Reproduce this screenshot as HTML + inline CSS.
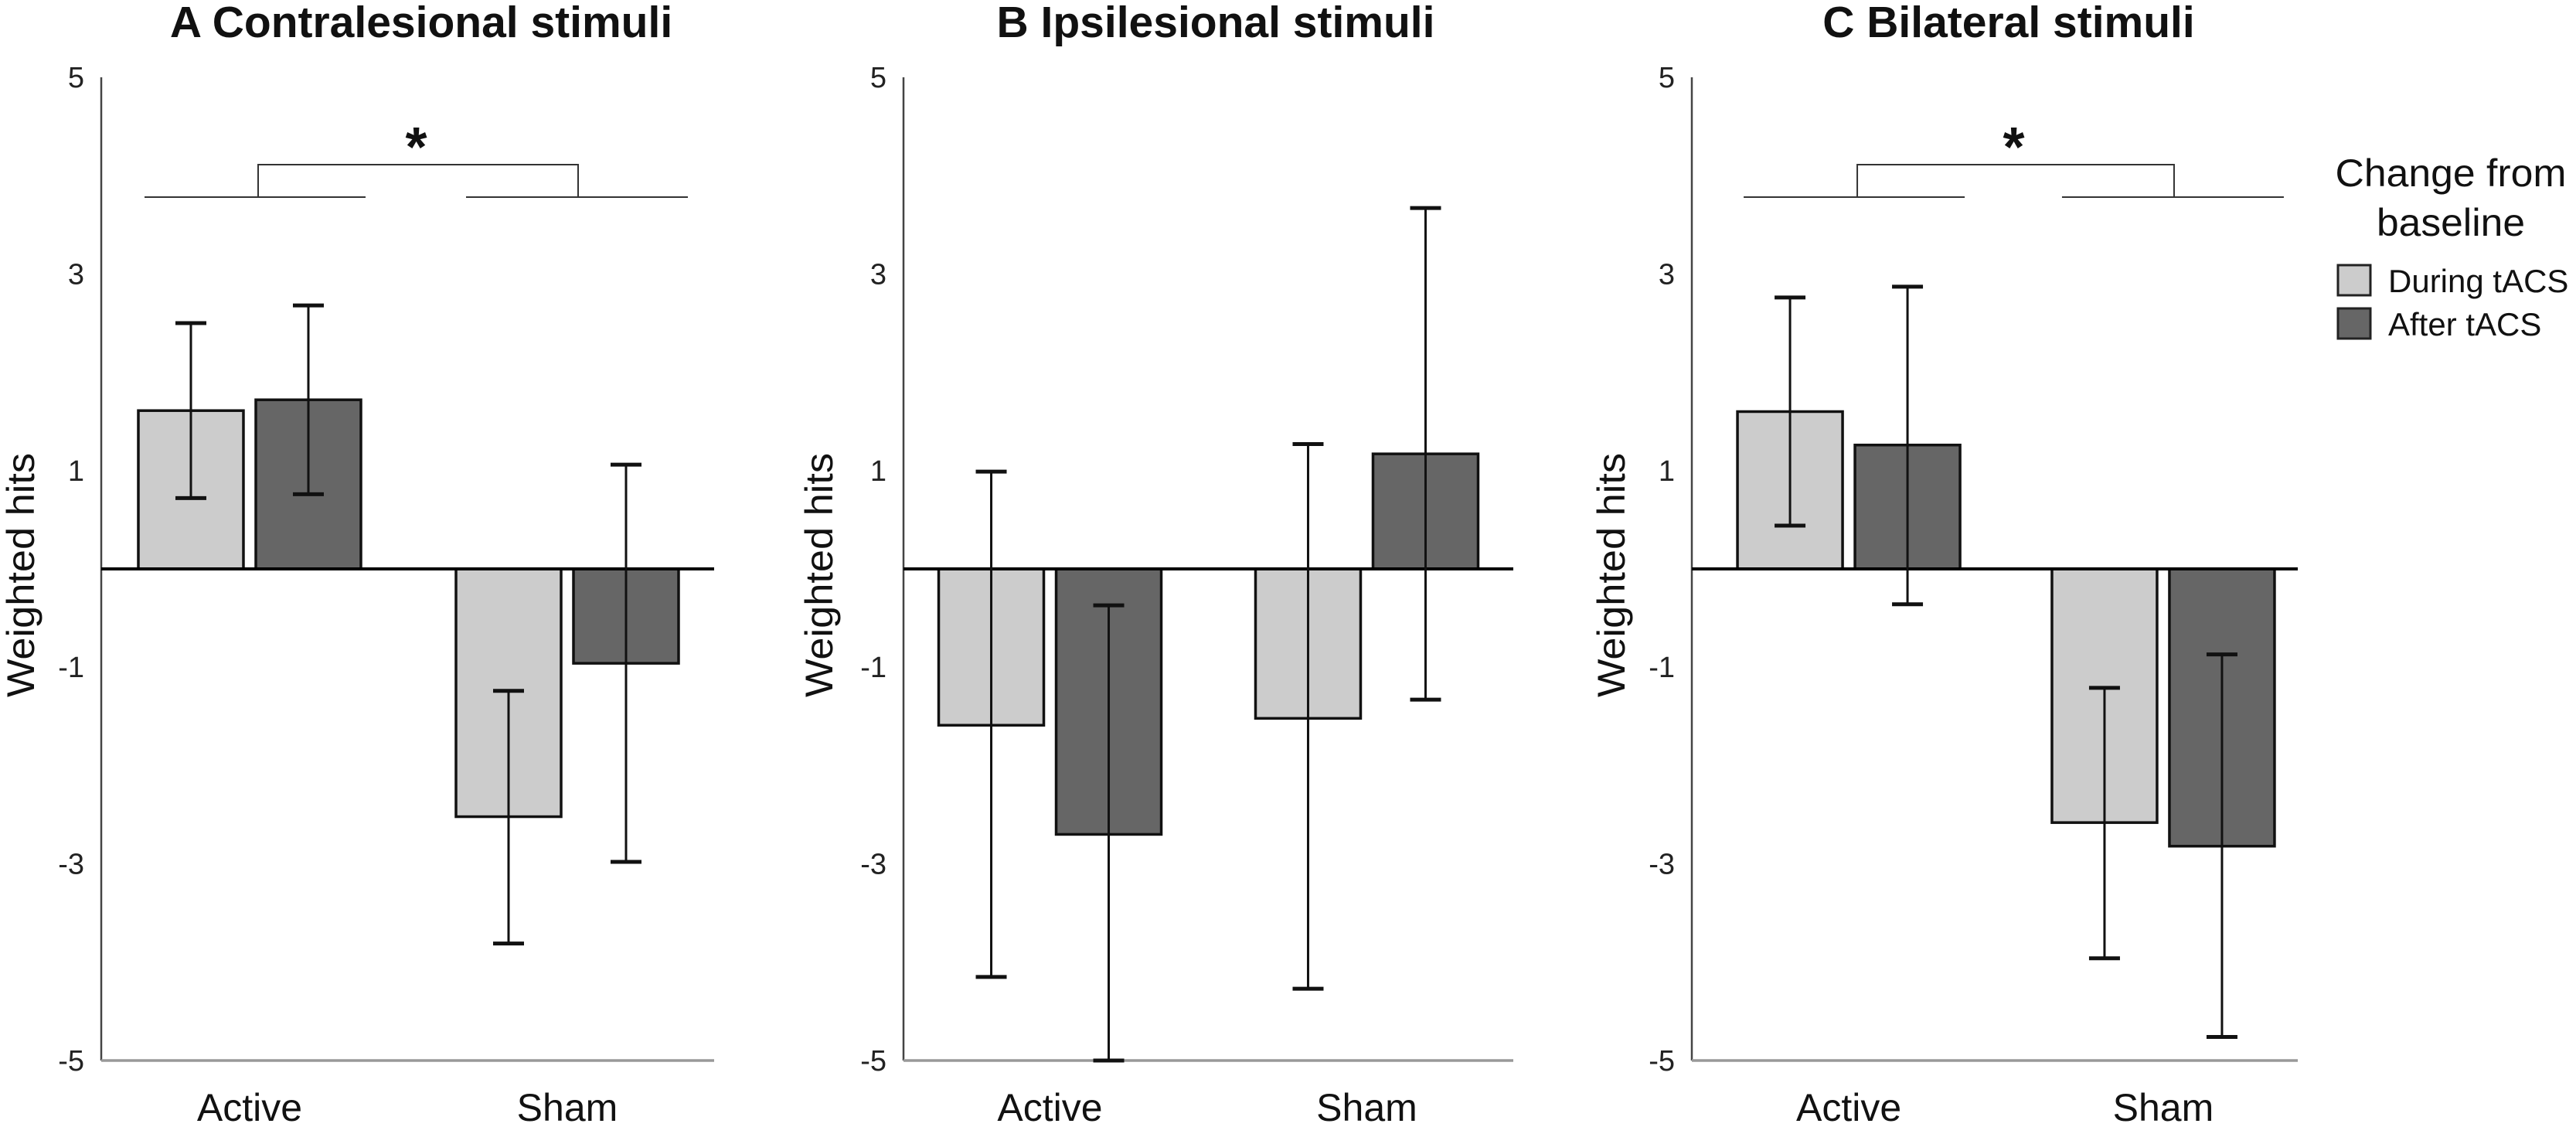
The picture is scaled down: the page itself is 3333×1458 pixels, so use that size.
<!DOCTYPE html>
<html><head><meta charset="utf-8"><style>
html,body{margin:0;padding:0;background:#fff;}
svg{display:block;font-family:"Liberation Sans",Arial,sans-serif;}
</style></head><body>
<svg id="chart" width="3333" height="1458" viewBox="0 0 3333 1458" xmlns="http://www.w3.org/2000/svg"></svg>
<script>
const categories = ["Active", "Sham"];
const seriesNames = ["During tACS", "After tACS"];
const panelTitles = ["A Contralesional stimuli", "B Ipsilesional stimuli", "C Bilateral stimuli"];
const yTicks = [5, 3, 1, -1, -3, -5];
// values[panel][category] for each series
const duringA = [1.61, -2.52];
const afterA  = [1.72, -0.96];
const duringB = [-1.59, -1.52];
const afterB  = [-2.70, 1.17];
const duringC = [1.60, -2.58];
const afterC  = [1.26, -2.82];
// error bar bounds [hi, lo]
const duringErrA = [[2.50, 0.72], [-1.24, -3.81]];
const afterErrA  = [[2.68, 0.76], [1.06, -2.98]];
const duringErrB = [[0.99, -4.15], [1.27, -4.27]];
const afterErrB  = [[-0.37, -5.0], [3.67, -1.33]];
const duringErrC = [[2.76, 0.44], [-1.21, -3.96]];
const afterErrC  = [[2.87, -0.36], [-0.87, -4.76]];
const significant = [true, false, true];

const svg = document.getElementById('chart');
const NS = 'http://www.w3.org/2000/svg';
function mk(tag, attrs, parent){
  const e = document.createElementNS(NS, tag);
  for (const k in attrs) e.setAttribute(k, attrs[k]);
  (parent||svg).appendChild(e);
  return e;
}
const Y0 = 736, UNIT = 127.2;
function y(v){ return Y0 - v*UNIT; }

const panels = [
  {L:131, R:924, f:[0.2421,0.7604], tx:545, yt:27, during:duringA, after:afterA, dErr:duringErrA, aErr:afterErrA},
  {L:1169, R:1958, f:[0.2402,0.7598], tx:1573, yt:1060, during:duringB, after:afterB, dErr:duringErrB, aErr:afterErrB},
  {L:2189, R:2973, f:[0.2590,0.7780], tx:2599, yt:2085, during:duringC, after:afterC, dErr:duringErrC, aErr:afterErrC}
];
const colors = ['#cccccc', '#666666'];

panels.forEach((p, pi) => {
  const g = mk('g', {});
  
  
  const t = mk('text', {x:p.tx, y:48, 'text-anchor':'middle', 'font-size':57, 'font-weight':'bold', fill:'#111'}, g);
  t.textContent = panelTitles[pi];
  
  
  const yt = mk('text', {x:0, y:0, 'text-anchor':'middle', 'font-size':50, fill:'#111', textLength:316, lengthAdjust:'spacingAndGlyphs', transform:`translate(${p.yt+17},744) rotate(-90)`}, g);
  yt.textContent = 'Weighted hits';
  
  
  yTicks.forEach(v => {
    const tl = mk('text', {x:p.L-22, y:y(v)+13, 'text-anchor':'end', 'font-size':38, fill:'#222'}, g);
    tl.textContent = String(v);
    
    
  });
  const ya = mk('line', {x1:p.L, y1:y(5), x2:p.L, y2:y(-5), stroke:'#444', 'stroke-width':2.5}, g);
  
  
  const xa = mk('line', {x1:p.L, y1:y(-5), x2:p.R, y2:y(-5), stroke:'#999', 'stroke-width':3.5}, g);
  
  
  const W = p.R - p.L;
  categories.forEach((c, ci) => {
    const cx = p.L + W*p.f[ci];
    const cl = mk('text', {x:cx, y:1450, 'text-anchor':'middle', 'font-size':50, fill:'#111'}, g);
    cl.textContent = c;
    
    
    [p.during, p.after].forEach((vals, si) => {
      const v = vals[ci];
      const x0 = si === 0 ? cx - 144 : cx + 8;
      const bw = 136;
      const top = Math.min(y(v), Y0), h = Math.abs(y(v) - Y0);
      const r = mk('rect', {x:x0, y:top, width:bw, height:h, fill:colors[si], stroke:'#111', 'stroke-width':3.5}, g);
      
      
    });
  });
  const zl = mk('line', {x1:p.L, y1:Y0, x2:p.R, y2:Y0, stroke:'#000', 'stroke-width':4}, g);
  
  
  categories.forEach((c, ci) => {
    const cx = p.L + W*p.f[ci];
    [p.dErr, p.aErr].forEach((errs, si) => {
      const ex = si === 0 ? cx - 76 : cx + 76;
      const [hi, lo] = errs[ci];
      const eg = mk('g', {stroke:'#111'}, g);
      
      
      mk('line', {x1:ex, y1:y(hi), x2:ex, y2:y(lo), 'stroke-width':3}, eg);
      mk('line', {x1:ex-20, y1:y(hi), x2:ex+20, y2:y(hi), 'stroke-width':5}, eg);
      mk('line', {x1:ex-20, y1:y(lo), x2:ex+20, y2:y(lo), 'stroke-width':5}, eg);
    });
  });
  if (significant[pi]) {
    const c0 = p.L + W*p.f[0], c1 = p.L + W*p.f[1];
    const bg = mk('g', {stroke:'#333', 'stroke-width':2, fill:'none'}, g);
    
    
    mk('line', {x1:c0-136, y1:255, x2:c0+150, y2:255}, bg);
    mk('line', {x1:c1-131, y1:255, x2:c1+156, y2:255}, bg);
    mk('polyline', {points:`${c0+11},255 ${c0+11},213 ${c1+14},213 ${c1+14},255`}, bg);
    const st = mk('text', {x:(c0+c1)/2+10, y:215, 'text-anchor':'middle', 'font-size':72, 'font-weight':'bold', fill:'#111'}, g);
    st.textContent = '*';
    
    
  }
});

// legend
const lg = mk('g', {});


const lt1 = mk('text', {x:3171, y:241, 'text-anchor':'middle', 'font-size':50, fill:'#111', textLength:299, lengthAdjust:'spacingAndGlyphs'}, lg);
lt1.textContent = 'Change from';


const lt2 = mk('text', {x:3171, y:305, 'text-anchor':'middle', 'font-size':50, fill:'#111', textLength:192, lengthAdjust:'spacingAndGlyphs'}, lg);
lt2.textContent = 'baseline';


seriesNames.forEach((s, i) => {
  const yy = 343 + i*56;
  const sw = mk('rect', {x:3025, y:yy, width:42, height:39, fill:colors[i], stroke:'#222', 'stroke-width':3}, lg);
  
  
  const lt = mk('text', {x:3090, y:yy+35, 'font-size':42, fill:'#111'}, lg);
  lt.textContent = s;
  
  
});
</script>
</body></html>
